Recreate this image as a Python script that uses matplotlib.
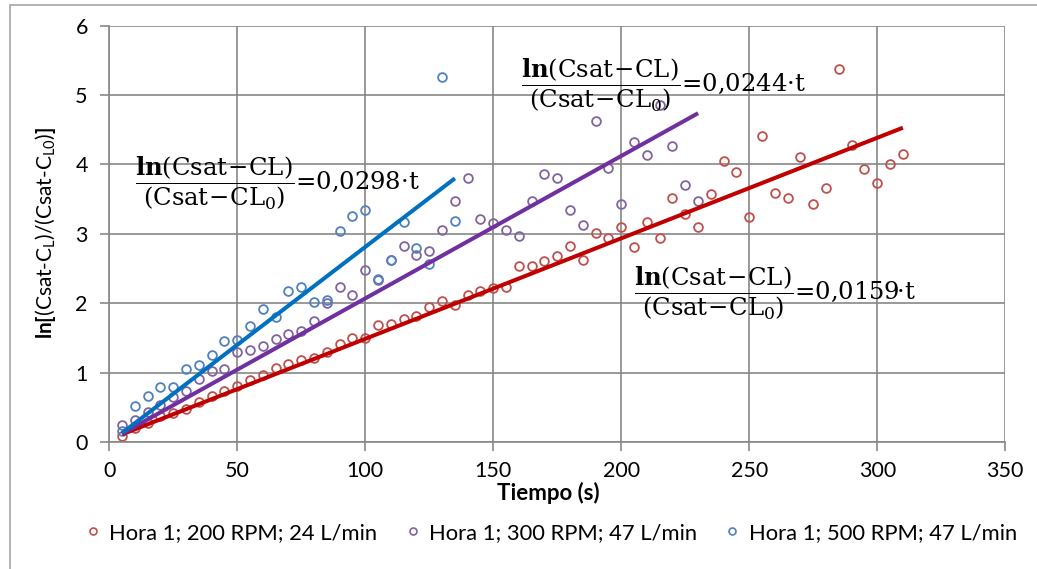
import matplotlib
matplotlib.use("Agg")
import matplotlib.pyplot as plt
import numpy as np
from matplotlib.lines import Line2D
from matplotlib.patches import Rectangle

plt.rcParams["font.family"] = ["Lato", "DejaVu Sans"]
plt.rcParams["mathtext.fontset"] = "custom"
plt.rcParams["mathtext.rm"] = "Lato"
plt.rcParams["mathtext.bf"] = "Lato:bold"
plt.rcParams["mathtext.it"] = "Lato:italic"

# tiempos de muestreo (s)
tiempo = [5, 10, 15, 20, 25, 30, 35, 40, 45, 50, 55, 60, 65, 70, 75, 80,
          85, 90, 95, 100, 105, 110, 115, 120, 125, 130, 135, 140, 145,
          150, 155, 160, 165, 170, 175, 180, 185, 190, 195, 200, 205, 210,
          215, 220, 225, 230, 235, 240, 245, 250, 255, 260, 265, 270, 275,
          280, 285, 290, 295, 300, 305, 310]

# Hora 1; 200 RPM; 24 L/min
y_200 = [0.08, 0.20, 0.28, 0.37, 0.42, 0.48, 0.57, 0.67, 0.73, 0.80, 0.90,
         0.97, 1.06, 1.13, 1.18, 1.21, 1.30, 1.41, 1.50, 1.50, 1.69, 1.70,
         1.78, 1.82, 1.95, 2.03, 1.98, 2.12, 2.18, 2.22, 2.23, 2.54, 2.53,
         2.61, 2.68, 2.82, 2.62, 3.01, 2.94, 3.10, 2.81, 3.17, 2.94, 3.52,
         3.29, 3.10, 3.58, 4.05, 3.89, 3.24, 4.41, 3.59, 3.52, 4.11, 3.43,
         3.66, 5.37, 4.28, 3.93, 3.73, 4.01, 4.15]

# Hora 1; 300 RPM; 47 L/min
y_300 = [0.25, 0.31, 0.43, 0.53, 0.65, 0.73, 0.91, 1.03, 1.05, 1.29, 1.33,
         1.39, 1.48, 1.56, 1.60, 1.75, 2.00, 2.23, 2.12, 2.48, 2.34, 2.63,
         2.82, 2.70, 2.76, 3.06, 3.48, 3.80, 3.22, 3.15, 3.05, 2.97, 3.48,
         3.86, 3.80, 3.35, 3.13, 4.63, 3.95, 3.43, 4.32, 4.14, 4.86, 4.26,
         3.71, 3.47]

# Hora 1; 500 RPM; 47 L/min
y_500 = [0.16, 0.52, 0.66, 0.79, 0.79, 1.05, 1.11, 1.25, 1.45, 1.47, 1.67,
         1.92, 1.80, 2.18, 2.23, 2.02, 2.04, 3.04, 3.26, 3.34, 2.35, 2.63,
         3.17, 2.79, 2.56, 5.26, 3.19]

etiquetas = ["Hora 1; 200 RPM; 24 L/min",
             "Hora 1; 300 RPM; 47 L/min",
             "Hora 1; 500 RPM; 47 L/min"]

# lineas de tendencia (pendiente, ordenada)
tend_200 = (0.01449, 0.038)
tend_300 = (0.02053, 0.017)
tend_500 = (0.02823, -0.011)

ecuaciones = ["0,0159", "0,0244", "0,0298"]

col_mark = ["#C0504D", "#8064A2", "#4F81BD"]
col_line = ["#C00000", "#7030A0", "#0070C0"]
gris = "#878787"

fig = plt.figure(figsize=(10.37, 5.69), dpi=100)
ax = fig.add_axes([0.1054, 0.2232, 0.864, 0.7316])

series = [y_200, y_300, y_500]
tendencias = [tend_200, tend_300, tend_500]
for ys, cm in zip(series, col_mark):
    t = np.array(tiempo[:len(ys)])
    ax.plot(t, ys, linestyle="none", marker="o", markersize=6.3,
            markerfacecolor="none", markeredgecolor=cm, markeredgewidth=1.3,
            zorder=2)

for ys, (m, b), cl in zip(series, tendencias, col_line):
    t = np.array([tiempo[0], tiempo[len(ys) - 1]])
    ax.plot(t, b + m * t, color=cl, linewidth=2.9, zorder=3,
            solid_capstyle="butt")

ax.set_xlim(0, 350)
ax.set_ylim(0, 6)
ax.set_xticks(range(0, 351, 50))
ax.set_yticks(range(0, 7))
ax.grid(True, color=gris, linewidth=1.2)
ax.set_axisbelow(True)
for s in ["top", "right"]:
    ax.spines[s].set_visible(False)
for s in ["left", "bottom"]:
    ax.spines[s].set_color(gris)
    ax.spines[s].set_linewidth(1.2)
ax.tick_params(axis="both", direction="out", color=gris, width=1.2,
               labelsize=15.5, length=6.5)
ax.tick_params(axis="y", pad=9)
ax.tick_params(axis="x", pad=7)

ax.set_xlabel("Tiempo (s)", fontsize=16, fontweight="bold")
ax.xaxis.label.set_va("center")
ax.xaxis.set_label_coords(0.4896, -0.1225)

ax.set_ylabel(r"$\mathbf{ln[}$(Csat-C$_\mathregular{L}$)/(Csat-C$_\mathregular{L0}$)$\mathbf{]}$",
              fontsize=15)
ax.yaxis.label.set_va("center")
ax.yaxis.set_label_coords(-0.0707, 0.502)

# ecuaciones de ajuste
pos_ec = [(205.0, 2.15), (160.8, 5.14), (10.0, 3.73)]
for (x, y), k in zip(pos_ec, ecuaciones):
    txt = (r"$\dfrac{\mathbf{ln}(\mathrm{Csat}\!-\!\mathrm{CL})}"
           r"{(\mathrm{Csat}\!-\!\mathrm{CL}_{0})}$=" + k + "·t")
    ax.text(x, y, txt, fontsize=17.5, family="DejaVu Serif",
            math_fontfamily="dejavuserif", ha="left", va="center", zorder=5)

# leyenda
handles = [Line2D([], [], linestyle="none", marker="o", markersize=5,
                  markerfacecolor="none", markeredgecolor=c,
                  markeredgewidth=1.2) for c in col_mark]
fig.legend(handles, etiquetas, loc="center", bbox_to_anchor=(0.532, 0.063),
           ncol=3, frameon=False, fontsize=15.8, handlelength=0.6,
           handletextpad=0.45, columnspacing=1.3)

# borde del area del grafico
fig.patches.append(Rectangle((10 / 1037, -0.05), 1.1, (564 / 569) + 0.05,
                             transform=fig.transFigure, fill=False,
                             edgecolor="#A6A6A6", linewidth=1.2))

fig.savefig("out.png", dpi=100)
